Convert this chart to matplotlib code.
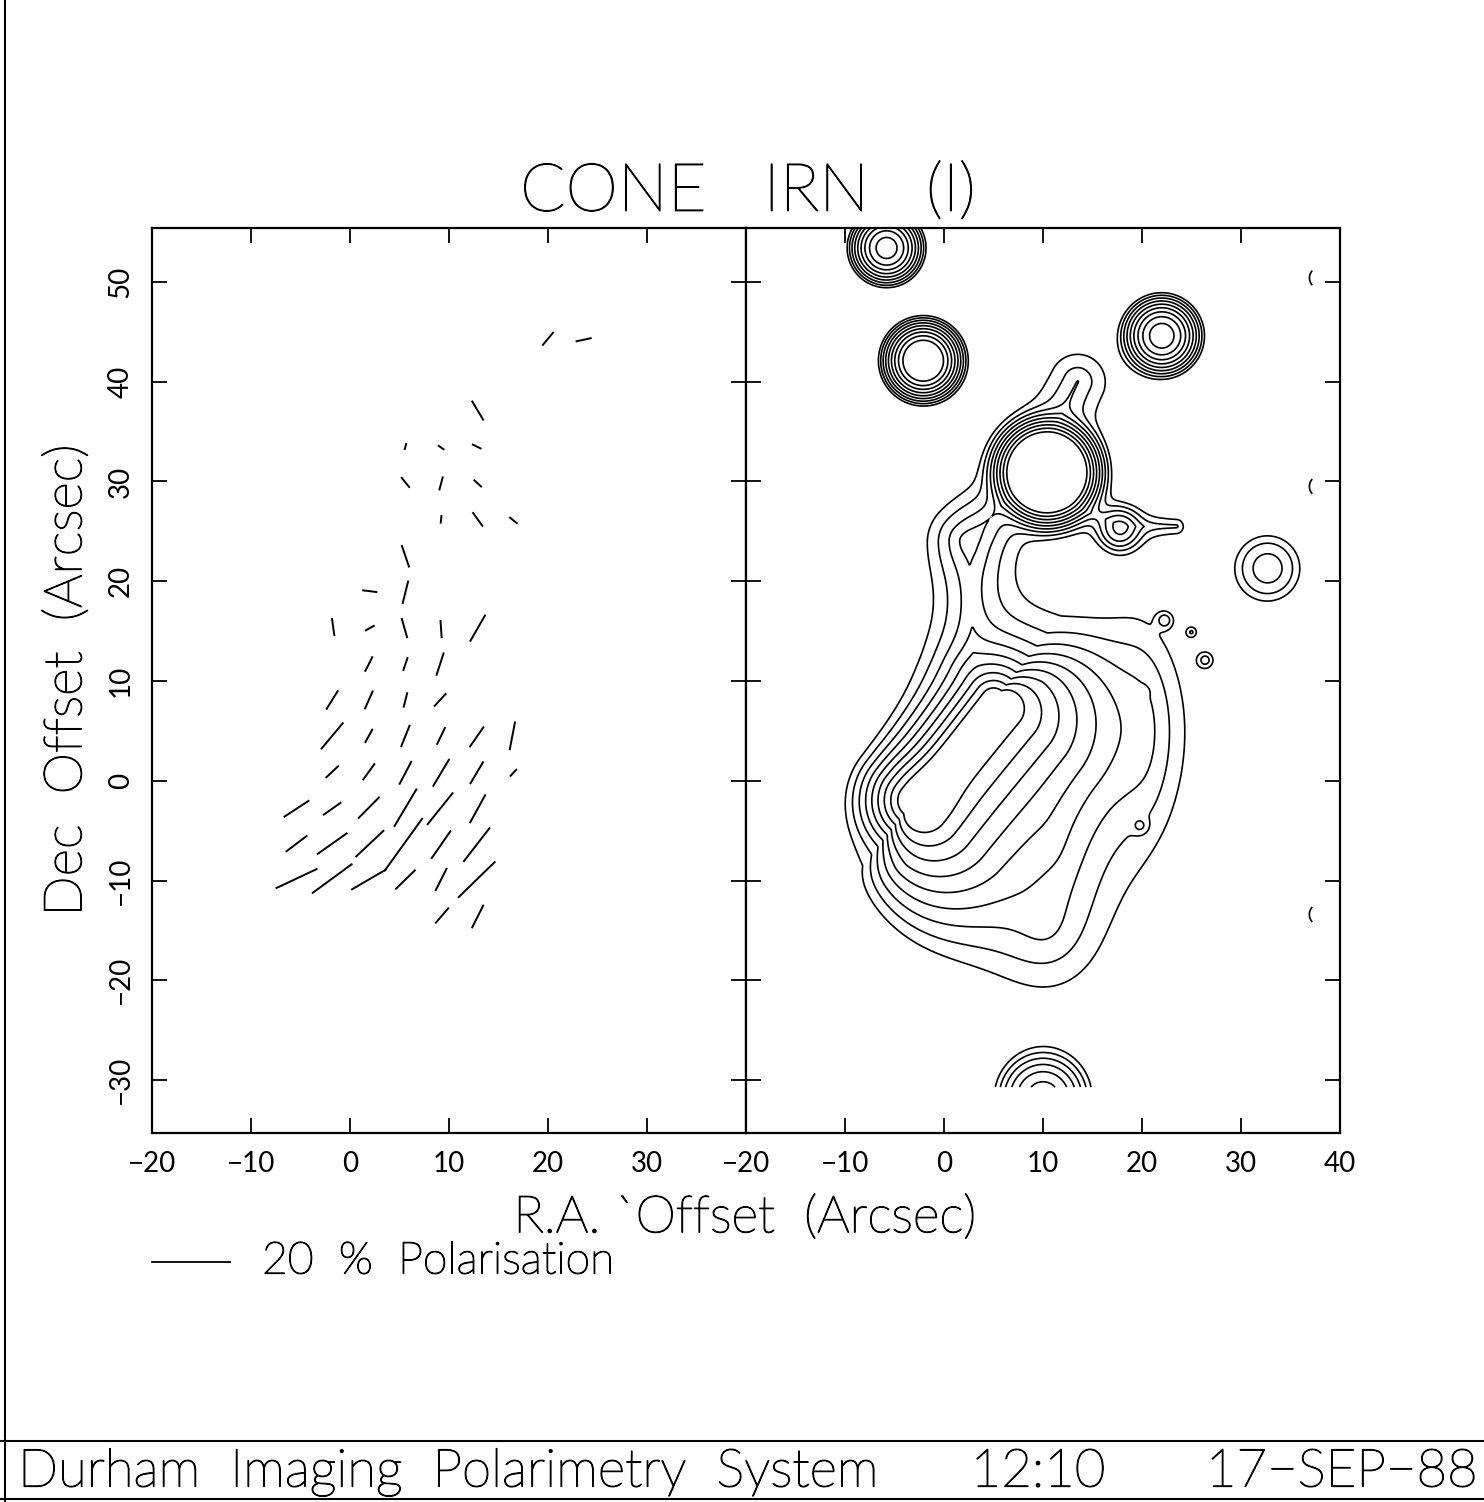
import numpy as np
import matplotlib.pyplot as plt
import matplotlib.patheffects as pe
from matplotlib.lines import Line2D

plt.rcParams['font.family'] = ['Lato', 'DejaVu Sans']

# ---- polarisation vectors (left panel): centre, percent, position angle (deg from +x)
vec_x = [12.9, 5.6, 9.2, 12.8, 5.6, 9.2, 12.9, 9.2, 12.9, 16.5,
         5.6, 2.0, 5.6, -1.7, 2.0, 5.5, 9.2, 12.9,
         1.9, 5.6, 9.1, -1.8, 1.9, 5.6, 9.1,
         -1.8, 1.9, 5.6, 9.2, 12.8, 16.4,
         -1.8, 1.9, 5.6, 9.2, 12.8, 16.5,
         -5.4, -1.8, 1.9, 5.6, 9.1, 12.9,
         -5.4, -1.8, 2.0, 5.4, 9.2, 12.8,
         -5.4, -1.8, 1.9, 5.6, 9.2, 12.8,
         9.3, 12.9, 20.0, 23.6]
vec_y = [37.1, 33.5, 33.4, 33.5, 29.9, 29.8, 29.8, 26.2, 26.2, 26.1,
         22.5, 19.0, 18.9, 15.4, 15.3, 15.3, 15.2, 15.3,
         11.7, 11.7, 11.7, 8.1, 8.1, 8.1, 8.1,
         4.5, 4.5, 4.5, 4.5, 4.4, 4.5,
         0.9, 0.9, 0.8, 0.8, 0.8, 0.8,
         -2.8, -2.8, -2.7, -2.7, -2.8, -2.8,
         -6.3, -6.3, -6.3, -6.4, -6.4, -6.4,
         -9.8, -9.8, -9.9, -9.9, -9.9, -9.9,
         -13.5, -13.6, 44.3, 44.2]
vec_p = [5.4, 1.3, 1.5, 2.2, 3.0, 3.2, 2.3, 1.7, 4.0, 2.2,
         5.5, 3.4, 5.6, 4.1, 2.3, 4.8, 4.1, 7.4,
         3.9, 3.2, 5.7, 5.3, 4.7, 3.5, 4.1,
         8.4, 3.6, 5.6, 4.5, 5.9, 6.9,
         4.1, 4.8, 6.3, 7.7, 6.2, 2.1,
         7.3, 5.2, 7.3, 10.8, 10.1, 7.8,
         6.4, 9.0, 9.5, 16.2, 8.3, 10.6,
         11.3, 12.3, 9.9, 6.7, 6.1, 12.8,
         4.8, 6.2, 4.0, 3.7]
vec_pa = [121, 75, 145, 154, 129, 75, 138, 84, 126, 141,
          109, 173, 76, 98, 29, 106, 94, 60,
          63, 71, 72, 58, 66, 76, 47,
          50, 61, 68, 64, 55, 79,
          43, 54, 62, 59, 59, 47,
          33, 35, 45, 59, 51, 61,
          37, 35, 43, 54, 55, 52,
          25, 36, 30, 44, 63, 44,
          49, 63, 50, 12]
scale_pct = 20          # length of the key bar in percent
scale_len = 7.9         # arcsec drawn for scale_pct

# ---- intensity map (right panel) built from components
# point sources (gaussian)
star_x = [-5.8, -2.1, 22.0, 10.4, 17.7, 32.7, 10.0, 38.0, 38.0, 38.0, -2.5]
star_y = [53.4, 42.1, 44.6, 30.9, 25.2, 21.3, -31.8, 50.4, 29.5, -13.4, -1.8]
star_amp = [57, 113, 60, 600, 5, 3.2, 14, 1.8, 1.8, 1.8, 20]
star_sig = [1.4, 1.47, 1.5, 1.75, 1.1, 2.1, 2.1, 1.0, 1.0, 1.0, 2.0]

# noise islands
blob_x = [22.3, 25.0, 26.4, 20.1, 19.8]
blob_y = [16.1, 14.9, 12.1, 8.9, -4.5]
blob_amp = [1.4, 1.25, 1.5, 1.2, 1.4]
blob_sig = [0.55, 0.4, 0.6, 0.35, 0.5]

# ridges: exponential fall-off with distance from a segment,
# separate scale lengths on the left / right of the segment direction
seg_x1 = [-3.0, 3.0, 2.5, 10.0, 12.0, 18.0]
seg_y1 = [-2.0, 12.0, 24.0, 33.0, 28.0, 25.5]
seg_x2 = [5.0, 2.5, 9.0, 13.5, 18.0, 23.5]
seg_y2 = [8.0, 24.0, 31.0, 40.0, 25.5, 25.5]
seg_amp = [100, 3.0, 3.0, 2.6, 2.0, 1.6]
seg_hl = [1.45, 2.4, 2.0, 2.8, 1.3, 1.0]
seg_hr = [3.8, 2.4, 2.0, 2.8, 1.3, 1.0]

# diffuse parts (exponential ellipses)
halo_x = [10.0, 20.0, 11.0, 10.0, -4.0]
halo_y = [10.0, 5.0, -6.0, -14.0, -8.5]
halo_amp = [3.0, 2.0, 2.0, 2.0, 1.5]
halo_a = [6.0, 8.0, 8.0, 4.5, 5.0]
halo_b = [4.5, 2.5, 4.0, 3.5, 3.0]
halo_ang = [0, 90, 90, 100, 10]

levels = [1.0, 1.6, 2.56, 4.1, 6.55, 10.5, 16.8, 26.8, 42.9]

gx = np.linspace(-20, 37.2, 460)
gy = np.linspace(-30.7, 56, 700)
X, Y = np.meshgrid(gx, gy)
F = np.zeros_like(X)
for x0, y0, a, s in zip(star_x + blob_x, star_y + blob_y, star_amp + blob_amp, star_sig + blob_sig):
    F += a * np.exp(-((X - x0)**2 + (Y - y0)**2) / (2 * s * s))
for x1, y1, x2, y2, a, hl, hr in zip(seg_x1, seg_y1, seg_x2, seg_y2, seg_amp, seg_hl, seg_hr):
    dx, dy = x2 - x1, y2 - y1
    t = np.clip(((X - x1) * dx + (Y - y1) * dy) / (dx * dx + dy * dy), 0, 1)
    px, py = X - x1 - t * dx, Y - y1 - t * dy
    d = np.hypot(px, py)
    side = (px * dy - py * dx) / (np.hypot(dx, dy) * np.maximum(d, 1e-9))
    h = hl + (hr - hl) * np.clip(side, 0, 1)
    F += a * np.exp(-d / h)
for x0, y0, a, sa, sb, ang in zip(halo_x, halo_y, halo_amp, halo_a, halo_b, halo_ang):
    c, s = np.cos(np.radians(ang)), np.sin(np.radians(ang))
    u = (X - x0) * c + (Y - y0) * s
    v = -(X - x0) * s + (Y - y0) * c
    F += a * np.exp(-np.sqrt((u / sa)**2 + (v / sb)**2))

# ---- figure
fig = plt.figure(figsize=(14.84, 15.02), dpi=100)
ax1 = fig.add_axes([152/1484, 1 - 1133/1502, 594/1484, 905/1502])
ax2 = fig.add_axes([746/1484, 1 - 1133/1502, 594/1484, 905/1502])

vx = np.array(vec_x); vy = np.array(vec_y)
L = np.array(vec_p) / scale_pct * scale_len
th = np.radians(vec_pa)
for i in range(len(vx)):
    ex, ey = 0.5 * L[i] * np.cos(th[i]), 0.5 * L[i] * np.sin(th[i])
    ax1.plot([vx[i] - ex, vx[i] + ex], [vy[i] - ey, vy[i] + ey], color='black', lw=1.4)

ax2.contour(X, Y, F, levels=levels, colors='black', linewidths=1.2)

for ax in (ax1, ax2):
    ax.set_xlim(-20, 40)
    ax.set_ylim(-35.3, 55.4)
    ax.set_xticks([-20, -10, 0, 10, 20, 30, 40])
    ax.set_yticks([-30, -20, -10, 0, 10, 20, 30, 40, 50])
    ax.tick_params(direction='in', length=11, width=1.3, top=True, right=True,
                   labelsize=20, pad=13)
    for sp in ax.spines.values():
        sp.set_linewidth(1.6)

ax1.set_xticklabels(['\u221220', '\u221210', '0', '10', '20', '30', ''])
ax2.set_xticklabels(['\u221220', '\u221210', '0', '10', '20', '30', '40'])
ax1.set_yticklabels(['\u221230', '\u221220', '\u221210', '0', '10', '20', '30', '40', '50'])
for t in ax1.get_yticklabels():
    t.set_rotation(90)
    t.set_va('center')
ax2.tick_params(labelleft=False)

thick = [pe.withStroke(linewidth=0.9, foreground='black')]
ax1.set_ylabel('Dec  Offset  (Arcsec)', fontsize=38, fontweight='light', labelpad=12,
               path_effects=thick)

fig.text(748/1484, 1 - 193/1502, 'CONE   IRN   (I)', fontsize=48, fontweight='light',
         ha='center', va='center', path_effects=thick)
fig.text(745/1484, 1 - 1218/1502, 'R.A. `Offset  (Arcsec)', fontsize=37, fontweight='light',
         ha='center', va='center', path_effects=thick)

fig.add_artist(Line2D([152/1484, 230/1484], [1 - 1262/1502, 1 - 1262/1502], color='black', lw=1.3))
fig.text(262/1484, 1 - 1262/1502, '20  %  Polarisation', fontsize=32, fontweight='light',
         ha='left', va='center', path_effects=thick)

# page border and footer box
fig.add_artist(Line2D([5/1484, 5/1484], [0, 1], color='black', lw=1.5))
fig.add_artist(Line2D([0, 1], [1 - 1441/1502, 1 - 1441/1502], color='black', lw=1.5))
fig.add_artist(Line2D([0, 1], [1 - 1499/1502, 1 - 1499/1502], color='black', lw=1.5))
fig.text(18/1484, 1 - 1472/1502, 'Durham  Imaging  Polarimetry  System', fontsize=38,
         fontweight='light', ha='left', va='center', path_effects=thick)
fig.text(1038/1484, 1 - 1472/1502, '12:10', fontsize=38, fontweight='light',
         ha='center', va='center', path_effects=thick)
fig.text(1342/1484, 1 - 1472/1502, '17\u2212SEP\u221288', fontsize=38, fontweight='light',
         ha='center', va='center', path_effects=thick)

fig.savefig('out.png', dpi=100)
